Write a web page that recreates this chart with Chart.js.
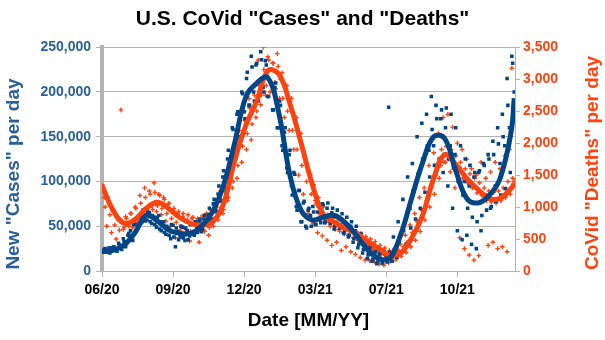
<!DOCTYPE html>
<html>
<head>
<meta charset="utf-8">
<title>U.S. CoVid Cases and Deaths</title>
<script src="https://cdn.jsdelivr.net/npm/chart.js@4"></script>
<style>
    html, body { margin: 0; padding: 0; background: #ffffff; }
    #box { width: 605px; height: 340px; }
</style>
</head>
<body>
<div id="box"><canvas id="covidChart"></canvas></div>
<script>
// eixo x em dias desde o inicio da serie
const ticksX = [0, 90, 180, 270, 360, 450];
const rotulosX = ["06/20", "09/20", "12/20", "03/21", "07/21", "10/21"];

// media movel (a cada 14 dias)
const diasMedia = [0, 14, 28, 42, 56, 70, 84, 98, 112, 126, 140, 154, 168, 182, 196, 210, 224, 238, 252,
    266, 280, 294, 308, 322, 336, 350, 364, 378, 392, 406, 420, 434, 448, 462, 476, 490, 504, 518, 522];
const casosMedia = [22000, 23000, 29000, 43000, 62000, 56000, 46000, 42000, 42000, 50000, 66000, 96000,
    143000, 194000, 210000, 216000, 176000, 107000, 68000, 57000, 60000, 62000, 54000, 40000, 24000,
    14000, 14000, 40000, 81000, 121000, 150000, 148000, 112000, 81000, 76000, 84000, 103000, 155000, 193000];
const obitosMedia = [1338, 949, 747, 809, 980, 1074, 980, 840, 747, 716, 762, 1058, 1727, 2272, 2661,
    3130, 3080, 2614, 2007, 1369, 887, 762, 669, 591, 467, 358, 249, 280, 513, 871, 1447, 1820, 1665,
    1447, 1276, 1136, 1136, 1291, 1369];

// registros diarios: dias 0, 3, 6, ...
const casosDia = [23000, 24000, 21000, 26000, 22000, 27000, 25000, 31000, 28000, 36000, 27000, 40000,
    45000, 34000, 52000, 48000, 60000, 55000, 68000, 57000, 65000, 53000, 60000, 49000, 62000, 45000,
    55000, 41000, 48000, 36000, 51000, 27000, 44000, 38000, 49000, 34000, 45000, 39000, 52000, 40000,
    48000, 55000, 44000, 58000, 51000, 63000, 57000, 75000, 68000, 86000, 78000, 105000, 92000, 125000,
    108000, 160000, 130000, 175000, 150000, 200000, 178000, 215000, 185000, 240000, 200000, 230000,
    190000, 245000, 205000, 235000, 195000, 225000, 180000, 205000, 160000, 190000, 140000, 155000,
    115000, 130000, 95000, 110000, 72000, 90000, 55000, 76000, 50000, 68000, 62000, 72000, 52000, 66000,
    58000, 75000, 54000, 70000, 60000, 65000, 47000, 62000, 52000, 58000, 42000, 52000, 38000, 50000,
    32000, 45000, 26000, 35000, 20000, 30000, 14000, 25000, 11000, 20000, 8000, 18000, 12000, 22000,
    16000, 183000, 18000, 38000, 26000, 55000, 40000, 80000, 55000, 105000, 70000, 120000, 95000, 150000,
    110000, 165000, 125000, 175000, 135000, 195000, 140000, 185000, 120000, 170000, 110000, 160000,
    95000, 140000, 70000, 130000, 45000, 115000, 35000, 100000, 40000, 95000, 30000, 105000, 25000,
    110000, 45000, 120000, 85000, 130000, 70000, 145000, 95000, 160000, 120000, 175000, 140000, 215000,
    160000, 240000, 200000];
const obitosDia = [1350, 1150, 700, 1050, 600, 950, 500, 820, 2520, 650, 850, 560, 900, 680, 1000, 760,
    1180, 880, 1300, 950, 1250, 1020, 1380, 930, 1200, 880, 1150, 780, 1050, 700, 950, 520, 900, 640,
    850, 560, 800, 470, 820, 600, 780, 450, 760, 640, 900, 560, 950, 700, 1100, 800, 1250, 900, 1450,
    1100, 1700, 1300, 1900, 1450, 2200, 1700, 2500, 1900, 2700, 2050, 2900, 2400, 3300, 2600, 3500, 2750,
    3350, 2800, 3250, 2950, 3400, 2700, 3100, 2400, 2900, 2200, 2700, 1900, 2400, 1500, 2150, 1200, 1700,
    900, 1500, 750, 1100, 600, 900, 550, 800, 480, 760, 400, 700, 450, 650, 320, 600, 380, 560, 300, 520,
    260, 480, 210, 430, 170, 390, 160, 330, 140, 300, 110, 260, 90, 220, 130, 250, 160, 300, 230, 420,
    310, 560, 450, 720, 600, 900, 780, 1150, 950, 1300, 1100, 1650, 1300, 1850, 1500, 2150, 1650, 2400,
    1700, 2450, 1550, 2250, 1300, 2000, 520, 1900, 350, 1750, 250, 1600, 170, 1500, 240, 1700, 1100,
    1450, 400, 1550, 450, 1700, 350, 1600, 380, 1800, 300, 1900, 3170, 1400];

// registros diarios: dias 1, 4, 7, ...
const casosDia2 = [21000, 25000, 23000, 20000, 26000, 24000, 22000, 29000, 24000,
    33000, 31000, 42000, 38000, 52000, 45000, 61000, 53000, 68000, 56000,
    66000, 55000, 62000, 52000, 60000, 47000, 55000, 43000, 50000, 40000, 52000, 38000, 48000, 35000,
    50000, 37000, 48000, 35000, 52000, 41000, 55000, 43000, 58000, 47000, 62000, 53000, 70000, 58000,
    80000, 66000, 95000, 78000, 112000, 88000, 135000, 105000, 158000, 128000, 178000, 150000, 198000, 170000,
    222000, 185000, 228000, 190000, 232000, 198000, 236000, 200000, 230000, 195000, 225000, 180000, 210000, 160000,
    185000, 135000, 160000, 110000, 135000, 85000, 108000, 68000, 90000, 55000, 78000, 48000, 70000, 50000,
    66000, 52000, 72000, 54000, 74000, 55000, 76000, 53000, 70000, 50000, 68000, 48000, 64000, 45000,
    60000, 40000, 55000, 36000, 50000, 30000, 42000, 24000, 35000, 18000, 28000, 13000, 22000, 10000,
    20000, 9000, 19000, 10000, 21000, 11000, 24000, 15000, 32000, 20000, 45000, 30000, 68000, 48000,
    90000, 58000, 108000, 70000, 125000, 88000, 140000, 105000, 158000, 118000, 170000, 125000, 180000, 130000,
    182000, 125000, 175000, 115000, 160000, 100000, 140000, 85000, 125000, 70000, 118000, 60000, 110000, 55000,
    112000, 62000, 118000, 68000, 125000, 72000, 130000, 78000, 142000, 85000, 150000, 92000, 185000, 110000,
    232000];
const obitosDia2 = [1250, 1000, 1150, 880, 950, 720, 830, 640, 780,
    680, 820, 700, 900, 760, 980, 820, 1060, 900, 1150,
    1000, 1200, 960, 1230, 1020, 1180, 980, 1120, 900, 1060, 820, 980, 760, 930,
    700, 900, 650, 880, 620, 840, 600, 820, 640, 860, 620, 880, 680, 900,
    820, 1000, 880, 1120, 960, 1300, 1150, 1500, 1400, 1750, 1650, 2050, 1950, 2350,
    2150, 2550, 2300, 2750, 2500, 2900, 2750, 3150, 2900, 3300, 2950, 3250, 2850, 3200,
    3000, 2700, 2850, 2500, 2650, 2200, 2400, 1900, 2100, 1650, 1800, 1400, 1550, 1200,
    1350, 1050, 1150, 880, 1000, 760, 880, 700, 820, 650, 780, 620, 740, 580,
    700, 560, 660, 520, 620, 480, 580, 440, 540, 400, 500, 360, 460, 320,
    400, 290, 360, 240, 320, 200, 300, 190, 320, 230, 380, 290, 470, 380,
    600, 480, 760, 620, 950, 800, 1150, 1000, 1400, 1200, 1650, 1450, 1900, 1700,
    1950, 1750, 1900, 1650, 1800, 1550, 1700, 1450, 1600, 1380, 1520, 1300, 1450, 1220,
    1380, 1180, 1300, 1100, 1250, 1080, 1230, 1060, 1250, 1100, 1300, 1150, 1400, 1200,
    1450];

const AZUL = "#004586";
const LARANJA = "#ff420e";
const TEXTO_AZUL = "#2a6099";
const CINZA = "#b3b3b3";
const fonte = "'Liberation Sans', Arial, sans-serif";

function pontos(dias, valores) {
    const lista = [];
    for (let i = 0; i < valores.length; i++) {
        lista.push({ x: dias[i], y: valores[i] });
    }
    return lista;
}

const diasRegistro = casosDia.map((v, i) => i * 3);
const diasRegistro2 = casosDia2.map((v, i) => i * 3 + 1);

// titulos verticais desenhados a mao para poder posicionar
const titulosEixos = {
    id: "titulosEixos",
    afterDraw(chart) {
        const ctx = chart.ctx;
        ctx.save();
        ctx.font = `bold 19px ${fonte}`;
        ctx.textAlign = "center";
        ctx.textBaseline = "middle";

        ctx.fillStyle = TEXTO_AZUL;
        ctx.translate(14, 174);
        ctx.rotate(-Math.PI / 2);
        ctx.fillText('New "Cases" per day', 0, 0);
        ctx.restore();

        ctx.save();
        ctx.font = `bold 19px ${fonte}`;
        ctx.textAlign = "center";
        ctx.textBaseline = "middle";
        ctx.fillStyle = LARANJA;
        ctx.translate(593, 163);
        ctx.rotate(-Math.PI / 2);
        ctx.fillText('CoVid "Deaths" per day', 0, 0);
        ctx.restore();
    }
};

const estiloCasos = {
    pointStyle: "rect",
    pointRadius: 2.5,
    borderWidth: 0,
    backgroundColor: AZUL,
    yAxisID: "y"
};

const estiloObitos = {
    pointStyle: "cross",
    pointRadius: 2.3,
    borderWidth: 1.4,
    borderColor: LARANJA,
    yAxisID: "y1"
};

const ctx = document.getElementById("covidChart");

new Chart(ctx, {
    type: "scatter",
    data: {
        datasets: [
            {
                label: "Casos (media)",
                data: pontos(diasMedia, casosMedia),
                showLine: true,
                borderColor: AZUL,
                borderWidth: 5,
                pointRadius: 0,
                tension: 0.4,
                yAxisID: "y"
            },
            {
                label: "Obitos (media)",
                data: pontos(diasMedia, obitosMedia),
                showLine: true,
                borderColor: LARANJA,
                borderWidth: 5,
                pointRadius: 0,
                tension: 0.4,
                yAxisID: "y1"
            },
            { label: "Casos", data: pontos(diasRegistro, casosDia), ...estiloCasos },
            { label: "Casos", data: pontos(diasRegistro2, casosDia2), ...estiloCasos },
            { label: "Obitos", data: pontos(diasRegistro, obitosDia), ...estiloObitos },
            { label: "Obitos", data: pontos(diasRegistro2, obitosDia2), ...estiloObitos }
        ]
    },
    options: {
        responsive: true,
        maintainAspectRatio: false,
        animation: false,
        layout: {
            padding: { top: 0, right: 0, bottom: 0, left: 0 }
        },
        plugins: {
            legend: { display: false },
            tooltip: { enabled: false },
            title: {
                display: true,
                text: 'U.S. CoVid "Cases" and "Deaths"',
                color: "#000000",
                font: { family: fonte, size: 21, weight: "bold" },
                padding: { top: 7, bottom: 15 }
            }
        },
        scales: {
            x: {
                type: "linear",
                min: 0,
                max: 523,
                afterBuildTicks: s => { s.ticks = ticksX.map(v => ({ value: v })); },
                afterFit: s => { s.height = 69; },
                grid: {
                    drawOnChartArea: false,
                    drawTicks: true,
                    tickLength: 6,
                    color: CINZA
                },
                border: { color: CINZA, width: 1 },
                ticks: {
                    color: "#000000",
                    padding: 5,
                    maxRotation: 0,
                    font: { family: fonte, size: 14, weight: "bold" },
                    callback: v => rotulosX[ticksX.indexOf(v)]
                },
                title: {
                    display: true,
                    text: "Date [MM/YY]",
                    color: "#000000",
                    font: { family: fonte, size: 19, weight: "bold" },
                    padding: { top: 4, bottom: 8 }
                }
            },
            y: {
                position: "left",
                min: 0,
                max: 250000,
                afterFit: s => { s.width = 102; },
                grid: {
                    color: CINZA,
                    tickLength: 6
                },
                border: { color: CINZA, width: 4 },
                ticks: {
                    stepSize: 50000,
                    color: TEXTO_AZUL,
                    padding: 5,
                    font: { family: fonte, size: 14, weight: "bold" },
                    callback: v => v.toLocaleString("en-US")
                }
            },
            y1: {
                position: "right",
                min: 0,
                max: 3500,
                afterFit: s => { s.width = 90; },
                grid: {
                    drawOnChartArea: false,
                    color: CINZA,
                    tickLength: 5
                },
                border: { color: CINZA, width: 1 },
                ticks: {
                    stepSize: 500,
                    color: LARANJA,
                    padding: 3,
                    font: { family: fonte, size: 14, weight: "bold" },
                    callback: v => v.toLocaleString("en-US")
                }
            }
        }
    },
    plugins: [titulosEixos]
});
</script>
</body>
</html>
